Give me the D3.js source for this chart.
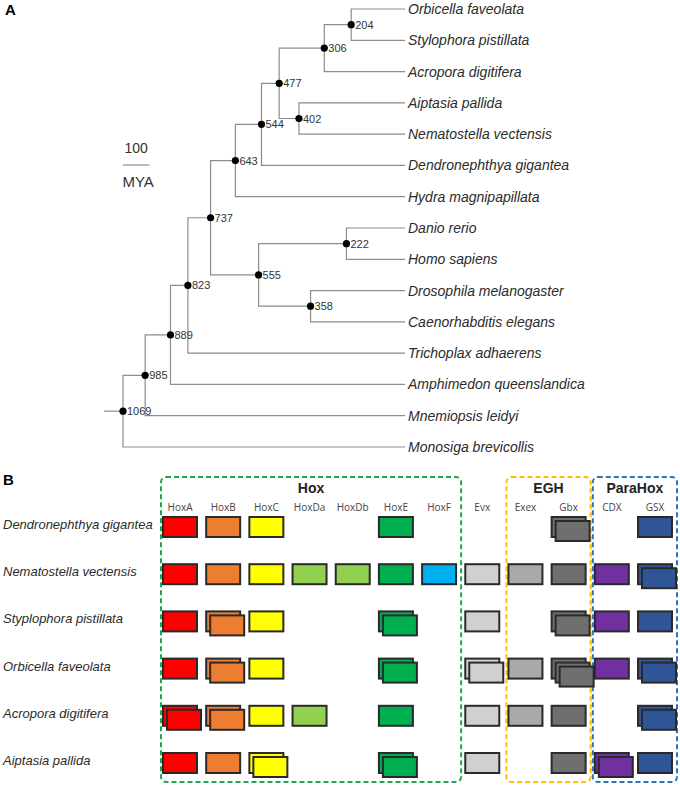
<!DOCTYPE html>
<html>
<head>
<meta charset="utf-8">
<script src="https://cdn.jsdelivr.net/npm/d3@7"></script>
<style>
  body { margin: 0; background: #fff; }
  svg { display: block; font-family: "Liberation Sans", Arial, sans-serif; }
  .branch { fill: none; stroke: #8c8c8c; stroke-width: 1.2; }
  .tip { font-style: italic; font-size: 14px; fill: #2b2b2b; }
  .age { font-size: 11px; fill: #333; }
  .gene { font-family: "Open Sans", sans-serif; font-size: 10px; fill: #444; }
  .group { font-size: 14px; font-weight: bold; fill: #222; }
  .species { font-style: italic; font-size: 13px; fill: #2b2b2b; }
</style>
</head>
<body>
<svg id="fig"></svg>
<script>
const width = 680;
const height = 790;

// panel A: tip order top to bottom
const leaves = [
  "Orbicella faveolata", "Stylophora pistillata", "Acropora digitifera",
  "Aiptasia pallida", "Nematostella vectensis", "Dendronephthya gigantea",
  "Hydra magnipapillata", "Danio rerio", "Homo sapiens",
  "Drosophila melanogaster", "Caenorhabditis elegans", "Trichoplax adhaerens",
  "Amphimedon queenslandica", "Mnemiopsis leidyi", "Monosiga brevicollis"
];

// id, parent, age (MYA)
const treeRows = [
  ["n1069", "", 1069],
  ["n985", "n1069", 985],
  ["Monosiga brevicollis", "n1069", 0],
  ["n889", "n985", 889],
  ["Mnemiopsis leidyi", "n985", 0],
  ["n823", "n889", 823],
  ["Amphimedon queenslandica", "n889", 0],
  ["n737", "n823", 737],
  ["Trichoplax adhaerens", "n823", 0],
  ["n643", "n737", 643],
  ["n555", "n737", 555],
  ["n544", "n643", 544],
  ["Hydra magnipapillata", "n643", 0],
  ["n477", "n544", 477],
  ["Dendronephthya gigantea", "n544", 0],
  ["n306", "n477", 306],
  ["n402", "n477", 402],
  ["n204", "n306", 204],
  ["Acropora digitifera", "n306", 0],
  ["Orbicella faveolata", "n204", 0],
  ["Stylophora pistillata", "n204", 0],
  ["Aiptasia pallida", "n402", 0],
  ["Nematostella vectensis", "n402", 0],
  ["n222", "n555", 222],
  ["Danio rerio", "n222", 0],
  ["Homo sapiens", "n222", 0],
  ["n358", "n555", 358],
  ["Drosophila melanogaster", "n358", 0],
  ["Caenorhabditis elegans", "n358", 0]
];

const rootStem = 72;     // MYA drawn left of the root
const scaleBarMya = 100;

// panel B
const genes = ["HoxA", "HoxB", "HoxC", "HoxDa", "HoxDb", "HoxE", "HoxF", "Evx", "Exex", "Gbx", "CDX", "GSX"];
const geneColors = ["#ff0000", "#ed7d31", "#ffff00", "#92d050", "#92d050", "#00b050", "#00b0f0",
                    "#d0d0d0", "#a9a9a9", "#6f6f6f", "#7030a0", "#2f5597"];
const species = ["Dendronephthya gigantea", "Nematostella vectensis", "Styplophora pistillata",
                 "Orbicella faveolata", "Acropora digitifera", "Aiptasia pallida"];
const copies = [
  [1, 1, 1, 0, 0, 1, 0, 0, 0, 2, 0, 1],
  [1, 1, 1, 1, 1, 1, 1, 1, 1, 1, 1, 2],
  [1, 2, 1, 0, 0, 2, 0, 1, 0, 2, 1, 1],
  [1, 2, 1, 0, 0, 2, 0, 2, 1, 3, 1, 2],
  [2, 2, 1, 1, 0, 1, 0, 1, 1, 1, 0, 2],
  [1, 1, 2, 0, 0, 2, 0, 1, 0, 1, 2, 1]
];
const groupNames = ["Hox", "EGH", "ParaHox"];
const groupFirst = ["HoxA", "Exex", "CDX"];
const groupLast = ["HoxF", "Gbx", "GSX"];
const groupColors = ["#1fa853", "#ffc000", "#2e75b6"];

const svg = d3.select("#fig").attr("width", width).attr("height", height);

// ---------- panel A ----------
svg.append("text").attr("x", 5).attr("y", 15)
  .style("font-size", "15px").style("font-weight", "bold").text("A");

const root = d3.stratify()
  .id(d => d[0])
  .parentId(d => d[1] || null)(treeRows);

const x = d3.scaleLinear().domain([1069, 0]).range([123, 405]);
const yLeaf = d3.scalePoint().domain(leaves).range([9, 447]);

root.eachAfter(n => {
  n.px = x(n.data[2]);
  n.py = n.children ? (n.children[0].py + n.children[n.children.length - 1].py) / 2 : yLeaf(n.id);
  if (n.children) {
    const ys = n.children.map(c => c.py);
    n.py = (d3.min(ys) + d3.max(ys)) / 2;
  }
});

const treeG = svg.append("g");

treeG.selectAll("path.branch")
  .data(root.descendants().filter(n => n.parent))
  .join("path")
  .attr("class", "branch")
  .attr("d", n => `M${n.parent.px},${n.parent.py}V${n.py}H${n.px}`);

treeG.append("path")
  .attr("class", "branch")
  .attr("d", `M${x(root.data[2] + rootStem)},${root.py}H${root.px}`);

const inner = root.descendants().filter(n => n.children);

treeG.selectAll("circle")
  .data(inner)
  .join("circle")
  .attr("cx", n => n.px)
  .attr("cy", n => n.py)
  .attr("r", 3.6)
  .attr("fill", "#000");

treeG.selectAll("text.age")
  .data(inner)
  .join("text")
  .attr("class", "age")
  .attr("x", n => n.px + 4)
  .attr("y", n => n.py + 4)
  .text(n => n.data[2]);

treeG.selectAll("text.tip")
  .data(root.leaves())
  .join("text")
  .attr("class", "tip")
  .attr("x", n => n.px + 3)
  .attr("y", n => n.py + 5)
  .text(n => n.id);

// scale bar
const barX = 123, barY = 165;
const barW = x(0) - x(scaleBarMya);
svg.append("line")
  .attr("x1", barX).attr("x2", barX + barW)
  .attr("y1", barY).attr("y2", barY)
  .attr("stroke", "#8c8c8c").attr("stroke-width", 1.2);
svg.append("text").attr("x", barX + barW / 2).attr("y", barY - 12)
  .attr("text-anchor", "middle").style("font-size", "14px").attr("fill", "#333")
  .text(scaleBarMya);
svg.append("text").attr("x", barX + barW / 2 + 2).attr("y", barY + 22)
  .attr("text-anchor", "middle").style("font-size", "15px").attr("fill", "#333")
  .text("MYA");

// ---------- panel B ----------
svg.append("text").attr("x", 3).attr("y", 485)
  .style("font-size", "15px").style("font-weight", "bold").text("B");

const gx = d3.scalePoint().domain(genes).range([180, 655]);
const gy = d3.scalePoint().domain(species).range([527, 763]);
const boxW = 34, boxH = 20, dup = 4;
const color = d3.scaleOrdinal().domain(genes).range(geneColors);

// dashed group frames
const frameTop = 477, frameBottom = 782;
groupNames.forEach((g, i) => {
  const x0 = gx(groupFirst[i]) - 19;
  const x1 = gx(groupLast[i]) + 22;
  svg.append("rect")
    .attr("x", x0).attr("y", frameTop)
    .attr("width", x1 - x0).attr("height", frameBottom - frameTop)
    .attr("rx", 5)
    .attr("fill", "none")
    .attr("stroke", groupColors[i])
    .attr("stroke-width", 2)
    .attr("stroke-dasharray", "5,3");
  svg.append("text")
    .attr("class", "group")
    .attr("x", (x0 + x1) / 2)
    .attr("y", 493)
    .attr("text-anchor", "middle")
    .text(g);
});

svg.selectAll("text.gene")
  .data(genes)
  .join("text")
  .attr("class", "gene")
  .attr("x", d => gx(d))
  .attr("y", 511)
  .attr("text-anchor", "middle")
  .text(d => d);

svg.selectAll("text.species")
  .data(species)
  .join("text")
  .attr("class", "species")
  .attr("x", 3)
  .attr("y", d => gy(d) + 2)
  .text(d => d);

const cells = [];
species.forEach((s, i) => {
  genes.forEach((g, j) => {
    for (let k = 0; k < copies[i][j]; k++) cells.push({s, g, k});
  });
});

svg.append("g").selectAll("rect")
  .data(cells)
  .join("rect")
  .attr("x", d => gx(d.g) - boxW / 2 + d.k * dup)
  .attr("y", d => gy(d.s) - boxH / 2 + d.k * dup)
  .attr("width", boxW)
  .attr("height", boxH)
  .attr("fill", d => color(d.g))
  .attr("stroke", "#2a2a2a")
  .attr("stroke-width", 2);
</script>
</body>
</html>
